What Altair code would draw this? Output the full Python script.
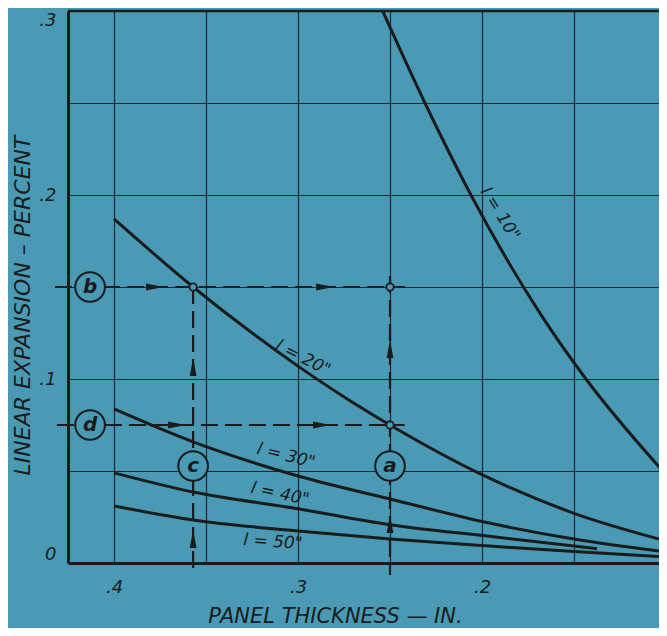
import altair as alt
import pandas as pd

BG = "#4a9ab6"
INK = "#1a1c1b"
FONT = "DejaVu Sans"

# ---------------- data ----------------
# curves: panel thickness (in.) vs linear expansion (percent)
l10_t = [0.254, 0.231, 0.206, 0.168, 0.1435, 0.100]
l10_e = [0.300, 0.250, 0.200, 0.135, 0.100, 0.048]
l20_t = [0.400, 0.357, 0.300, 0.273, 0.250, 0.200, 0.150, 0.100]
l20_e = [0.187, 0.150, 0.107, 0.089, 0.075, 0.048, 0.027, 0.012]
l30_t = [0.400, 0.357, 0.300, 0.250, 0.196, 0.150, 0.100]
l30_e = [0.0837, 0.0658, 0.0473, 0.0348, 0.0217, 0.013, 0.006]
l40_t = [0.400, 0.357, 0.300, 0.250, 0.196, 0.150, 0.1375]
l40_e = [0.049, 0.0386, 0.0295, 0.0208, 0.0145, 0.0092, 0.0078]
l50_t = [0.400, 0.357, 0.300, 0.250, 0.196, 0.150, 0.100]
l50_e = [0.031, 0.0234, 0.0174, 0.013, 0.0092, 0.0062, 0.0033]

# curve labels
label_text = ['l = 10"', 'l = 20"', 'l = 30"', 'l = 40"', 'l = 50"']
label_t = [0.1902, 0.2973, 0.3065, 0.3098, 0.3136]
label_e = [0.1897, 0.1114, 0.0582, 0.0375, 0.0114]
label_angle = [58, 27, 14, 12, 4]

# dashed guide lines
guide_t1 = [0.432, 0.431, 0.357, 0.250]
guide_t2 = [0.2418, 0.242, 0.357, 0.250]
guide_e1 = [0.150, 0.075, 0.150, 0.156]
guide_e2 = [0.150, 0.075, -0.006, -0.0065]

# small open circles where guides meet
node_t = [0.357, 0.250, 0.250]
node_e = [0.150, 0.150, 0.075]

# arrow heads on the guides
arrow_t = [0.3777, 0.2853, 0.3658, 0.287, 0.357, 0.357, 0.250, 0.250]
arrow_e = [0.150, 0.150, 0.075, 0.075, 0.1065, 0.013, 0.1163, 0.0212]
arrow_dir = ["right", "right", "right", "right", "up", "up", "up", "up"]

# lettered keys
key_text = ["a", "b", "c", "d"]
key_t = [0.250, 0.413, 0.357, 0.413]
key_e = [0.0527, 0.150, 0.0527, 0.075]

# axes
x_ticks = [0.4, 0.35, 0.3, 0.25, 0.2, 0.15, 0.1]
x_tick_labels = [".4", "", ".3", "", ".2", "", ".1"]
y_ticks = [0, 0.05, 0.1, 0.15, 0.2, 0.25, 0.3]
y_tick_labels = ["0", "", ".1", "", ".2", "", ".3"]
x_title = "PANEL THICKNESS — IN."
y_title = "LINEAR EXPANSION – PERCENT"

# ---------------- tables ----------------
rows = []
for name, ts, es in [("10", l10_t, l10_e), ("20", l20_t, l20_e), ("30", l30_t, l30_e),
                     ("40", l40_t, l40_e), ("50", l50_t, l50_e)]:
    for t, e in zip(ts, es):
        rows.append({"series": name, "t": t, "e": e})
curves = pd.DataFrame(rows)
labels = pd.DataFrame({"txt": label_text, "t": label_t, "e": label_e, "ang": label_angle})
guides = pd.DataFrame({"t": guide_t1, "t2": guide_t2, "e": guide_e1, "e2": guide_e2})
nodes = pd.DataFrame({"t": node_t, "e": node_e})
arrows = pd.DataFrame({"t": arrow_t, "e": arrow_e, "dir": arrow_dir})
keys = pd.DataFrame({"txt": key_text, "t": key_t, "e": key_e})
top = pd.DataFrame({"e": [0.3]})


def label_expr(vals, labs):
    parts = [f"datum.value == {v} ? '{l}'" for v, l in zip(vals, labs)]
    return " : ".join(parts) + " : ''"


W, H = 591, 552
x_scale = alt.Scale(domain=[0.425 - W / 1840.0, 0.425], reverse=True, nice=False, zero=False)
y_scale = alt.Scale(domain=[0, 0.3], nice=False, zero=False)

x_axis = alt.Axis(values=x_ticks, labelExpr=label_expr(x_ticks, x_tick_labels),
                  grid=True, gridColor=INK, gridWidth=1.2, gridOpacity=0.9,
                  domain=True, domainColor=INK, domainWidth=3, ticks=False,
                  labelPadding=15, labelFont=FONT, labelFontSize=18, labelFontStyle="italic",
                  labelColor=INK, labelFlush=False, labelOverlap=False, labelBaseline="top",
                  title=x_title, titleFont=FONT, titleFontSize=21, titleFontStyle="italic",
                  titleFontWeight="normal", titleColor=INK, titleX=267, titleY=59,
                  titleAlign="center", titleBaseline="alphabetic")
y_axis = alt.Axis(values=y_ticks, labelExpr=label_expr(y_ticks, y_tick_labels),
                  grid=True, gridColor=INK, gridWidth=1.2, gridOpacity=0.9,
                  domain=True, domainColor=INK, domainWidth=3, ticks=False,
                  labelPadding=12, labelFont=FONT, labelFontSize=18, labelFontStyle="italic",
                  labelColor=INK, labelFlush=True, labelOverlap=False,
                  title=y_title, titleFont=FONT, titleFontSize=22, titleFontStyle="italic",
                  titleFontWeight="normal", titleColor=INK, titleAngle=270, titleX=-46, titleY=294,
                  titleAlign="center", titleBaseline="middle")

X = alt.X("t:Q", scale=x_scale, axis=x_axis)
Y = alt.Y("e:Q", scale=y_scale, axis=y_axis)

curve_layer = alt.Chart(curves).mark_line(color=INK, strokeWidth=3, interpolate="monotone").encode(
    x=X, y=Y, detail="series:N")

top_layer = alt.Chart(top).mark_rule(color=INK, strokeWidth=2.5).encode(
    y=Y, x=alt.value(0), x2=alt.value(W))

guide_layer = alt.Chart(guides).mark_rule(color=INK, strokeWidth=2.2, strokeDash=[17, 7]).encode(
    x=X, x2="t2:Q", y=Y, y2="e2:Q")

key_layer = alt.Chart(keys).mark_point(shape="circle", filled=False, fill=BG, fillOpacity=1,
                                       stroke=INK, strokeWidth=2, size=880, opacity=1).encode(
    x=X, y=Y)

key_text_layer = alt.Chart(keys).mark_text(font=FONT, fontSize=20, fontStyle="italic",
                                           fontWeight="bold", color=INK, align="center",
                                           baseline="middle").encode(
    x=X, y=Y, text="txt:N")

node_layer = alt.Chart(nodes).mark_point(shape="circle", filled=False, fill=BG, fillOpacity=1,
                                         stroke=INK, strokeWidth=1.8, size=55, opacity=1).encode(
    x=X, y=Y)

arrow_right = alt.Chart(arrows).transform_filter(alt.datum.dir == "right").mark_point(
    shape="M1,0L-1,0.38L-1,-0.38Z", filled=True, color=INK, size=320, opacity=1).encode(
    x=X, y=Y)
arrow_up = alt.Chart(arrows).transform_filter(alt.datum.dir == "up").mark_point(
    shape="M0,-1L0.38,1L-0.38,1Z", filled=True, color=INK, size=320, opacity=1).encode(
    x=X, y=Y)

label_layer = alt.Chart(labels).mark_text(font=FONT, fontSize=17, fontStyle="italic", color=INK,
                                          align="center", baseline="middle").encode(
    x=X, y=Y, text="txt:N", angle=alt.Angle("ang:Q", scale=None))

chart = alt.layer(curve_layer, top_layer, guide_layer, key_layer, key_text_layer, node_layer,
                  arrow_right, arrow_up, label_layer).properties(
    width=W, height=H,
    padding={"left": 60, "top": 3, "right": 0, "bottom": 65},
    autosize=alt.AutoSizeParams(type="none"),
).configure(background=BG).configure_view(stroke=None)

chart.save("out.html", embed_options={"renderer": "svg", "actions": False})
